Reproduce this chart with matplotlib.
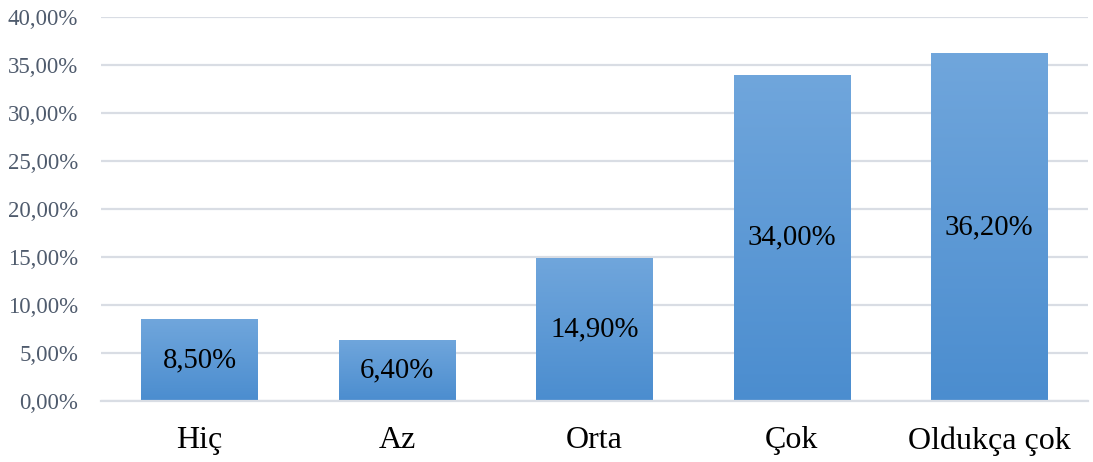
"""Bar chart of response distribution with gradient-filled bars."""

import matplotlib
matplotlib.use("Agg")
import matplotlib.pyplot as plt
import numpy as np
from matplotlib.colors import LinearSegmentedColormap
from matplotlib.ticker import FuncFormatter

categories = ["Hiç", "Az", "Orta", "Çok", "Oldukça çok"]
values = [8.5, 6.4, 14.9, 34.0, 36.2]
y_ticks = [0, 5, 10, 15, 20, 25, 30, 35, 40]

TOP_COLOR = "#70a6dc"
BOTTOM_COLOR = "#4b8dcf"
GRID_COLOR = "#d9dde4"
TICK_COLOR = "#4f5b6d"

plt.rcParams["font.family"] = ["Liberation Serif", "DejaVu Serif"]


def tr_percent(v, _pos=None):
    return f"{v:.2f}".replace(".", ",") + "%"


fig = plt.figure(figsize=(10.93, 4.62), dpi=100)
ax = fig.add_axes([101 / 1093, 1 - 401 / 462, 987 / 1093, 384 / 462])

cmap = LinearSegmentedColormap.from_list("bar", [BOTTOM_COLOR, TOP_COLOR])
gradient = np.linspace(0, 1, 256).reshape(-1, 1)

x = np.arange(len(categories))
bars = ax.bar(x, values, width=0.59, color="none", edgecolor="none", zorder=3)
for bar in bars:
    x0, y0 = bar.get_x(), bar.get_y()
    w, h = bar.get_width(), bar.get_height()
    img = ax.imshow(gradient, cmap=cmap, aspect="auto", origin="lower",
                    extent=[x0, x0 + w, y0, y0 + h], zorder=3)
    img.set_clip_path(bar)

for xi, v in zip(x, values):
    ax.text(xi, v / 2, tr_percent(v), ha="center", va="center",
            fontsize=20.7, color="black", zorder=4)

ax.set_xlim(-0.5, len(categories) - 0.5)
ax.set_ylim(0, 40)
ax.set_yticks(y_ticks)
ax.yaxis.set_major_formatter(FuncFormatter(tr_percent))
ax.set_xticks(x)
ax.set_xticklabels(categories, fontsize=23)

ax.grid(axis="y", color=GRID_COLOR, linewidth=1.6, zorder=0)
ax.set_axisbelow(True)
for side in ["top", "right", "left"]:
    ax.spines[side].set_visible(False)
ax.spines["bottom"].set_color(GRID_COLOR)
ax.spines["bottom"].set_linewidth(1.6)
ax.spines["bottom"].set_zorder(5)

ax.tick_params(axis="y", length=0, pad=16.5, labelsize=16.5, labelcolor=TICK_COLOR)
ax.tick_params(axis="x", length=0, pad=18)

fig.savefig("out.png", dpi=100)
